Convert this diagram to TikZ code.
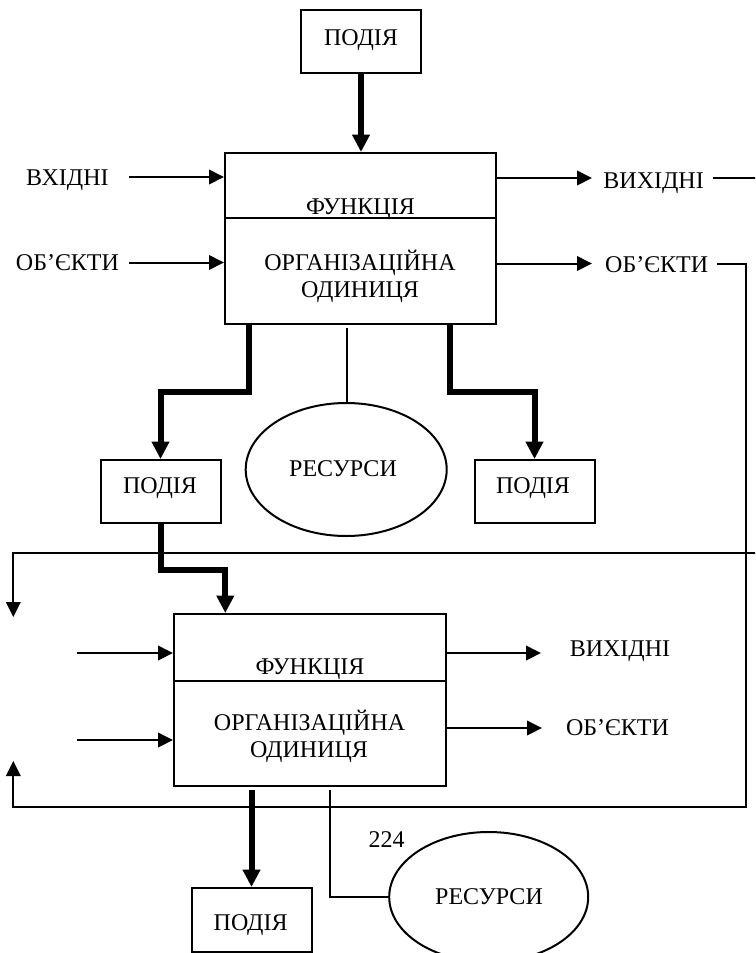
\documentclass[tikz,border=0pt]{standalone}
\usepackage{fontspec}
\setmainfont{Liberation Serif}
\usetikzlibrary{arrows.meta,shapes.geometric}
\begin{document}
\begin{tikzpicture}[x=1pt,y=-1pt,
  thinl/.style={line width=2pt},
  heavy/.style={line width=6pt},
  tip/.style={-{Triangle[length=15pt,width=14.5pt]}},
  bigtip/.style={-{Triangle[length=17.5pt,width=17pt]}},
  box/.style={draw,line width=2pt,inner sep=0pt,rectangle},
  eventbox/.style={box,minimum width=120pt,minimum height=63pt},
  funcbox/.style={box,minimum width=271pt,minimum height=171pt},
  oval/.style={draw,line width=2pt,inner sep=0pt,ellipse},
  txt/.style={anchor=base,inner sep=0pt,font=\fontsize{24}{27}\selectfont}]
\useasboundingbox (0,0) rectangle (755,953);
\clip (0,0) rectangle (755,953);

% ---------- upper function block ----------
\node[eventbox] (ev0) at (361,41.5) {};
\node[funcbox] (f1) at (360.5,238.5) {};
\coordinate (f1dl) at (225,218);
\coordinate (f1dr) at (496,218);
\draw[thinl] (f1dl) -- (f1dr);
\node[oval,minimum width=201pt,minimum height=133pt] (res1) at (346.2,469.5) {};
\node[eventbox] (evL) at (160.5,491.5) {};
\node[eventbox] (evR) at (534.5,491.5) {};

% ---------- lower function block ----------
\node[funcbox,minimum width=271.5pt,minimum height=172pt] (f2) at (309.75,700) {};
\coordinate (f2dl) at (174,681);
\coordinate (f2dr) at (445.5,681);
\draw[thinl] (f2dl) -- (f2dr);
\node[oval,minimum width=199pt,minimum height=130pt] (res2) at (488.7,897) {};
\node[eventbox,minimum height=64pt] (evB) at (251.5,920) {};

% ---------- texts ----------
\node[txt] (tev0) at (361,45) {ПОДІЯ};
\node[txt] (tfn1) at (360.4,214) {ФУНКЦІЯ};
\node[txt] (torg1) at (360,270) {ОРГАНІЗАЦІЙНА};
\node[txt] (tunit1) at (360,297) {ОДИНИЦЯ};
\node[txt] (tin1) at (67.4,185) {ВХІДНІ};
\node[txt] (tob1) at (67.4,270) {ОБ’ЄКТИ};
\node[txt] (tout1) at (653.6,188) {ВИХІДНІ};
\node[txt] (tob1r) at (656.7,272) {ОБ’ЄКТИ};
\node[txt] (tres1) at (343,476) {РЕСУРСИ};
\node[txt] (tevL) at (160,493) {ПОДІЯ};
\node[txt] (tevR) at (533,493) {ПОДІЯ};
\node[txt] (tfn2) at (310,674) {ФУНКЦІЯ};
\node[txt] (torg2) at (309.6,730) {ОРГАНІЗАЦІЙНА};
\node[txt] (tunit2) at (309,757) {ОДИНИЦЯ};
\node[txt] (tout2) at (620,656) {ВИХІДНІ};
\node[txt] (tob2) at (617.5,735) {ОБ’ЄКТИ};
\node[txt] (tnum) at (386.6,847) {224};
\node[txt] (tres2) at (489,904) {РЕСУРСИ};
\node[txt] (tevB) at (250.6,930) {ПОДІЯ};

% ---------- inputs and outputs of the upper block ----------
\coordinate (in1a) at (129,177);
\coordinate (in1b) at (129,262.5);
\draw[thinl,tip] (in1a) -- (in1a -| f1.west);
\draw[thinl,tip] (in1b) -- (in1b -| f1.west);
\coordinate (out1a) at (592,178);
\coordinate (out1b) at (592,263.5);
\draw[thinl,tip] (out1a -| f1.east) -- (out1a);
\draw[thinl,tip] (out1b -| f1.east) -- (out1b);

% ---------- feedback loops ----------
\coordinate (out1tail) at (713,178);
\coordinate (offR) at (762,178);
\coordinate (offRd) at (762,553);
\coordinate (fbTL) at (13.3,553);
\coordinate (fbTLend) at (13.3,617);
\draw[thinl,tip] (out1tail) -- (offR) -- (offRd) -- (fbTL) -- (fbTLend);
\coordinate (ob1tail) at (717,263.5);
\coordinate (fbR) at (745.5,263.5);
\coordinate (fbBR) at (745.5,806.5);
\coordinate (fbBL) at (13.3,806.5);
\coordinate (fbBLend) at (13.3,761);
\draw[thinl,tip] (ob1tail) -- (fbR) -- (fbBR) -- (fbBL) -- (fbBLend);

% ---------- resources of the upper block ----------
\coordinate (r1top) at (346.5,328);
\draw[thinl] (r1top) -- (r1top |- res1.north);

% ---------- event flow ----------
\draw[heavy,bigtip] (ev0.south) -- (ev0.south |- f1.north);
\coordinate (k1) at (249,392);
\coordinate (k2) at (450,392);
\draw[heavy,bigtip] (f1.south -| k1) -- (k1) -| (evL.north);
\draw[heavy,bigtip] (f1.south -| k2) -- (k2) -| (evR.north);
\coordinate (k3) at (160.5,570);
\coordinate (k4) at (225.3,570);
\draw[heavy,bigtip] (evL.south) -- (k3) -- (k4) -- (k4 |- f2.north);

% ---------- inputs and outputs of the lower block ----------
\coordinate (in2a) at (77,653);
\coordinate (in2b) at (77,740);
\draw[thinl,tip] (in2a) -- (in2a -| f2.west);
\draw[thinl,tip] (in2b) -- (in2b -| f2.west);
\coordinate (out2a) at (541,653);
\coordinate (out2b) at (542,728);
\draw[thinl,tip] (out2a -| f2.east) -- (out2a);
\draw[thinl,tip] (out2b -| f2.east) -- (out2b);

% ---------- lower block: event and resources ----------
\coordinate (k5) at (251.5,790);
\draw[heavy,bigtip] (k5) -- (k5 |- evB.north);
\coordinate (r2a) at (330,790);
\draw[thinl] (r2a) |- (res2.west);
\end{tikzpicture}
\end{document}
